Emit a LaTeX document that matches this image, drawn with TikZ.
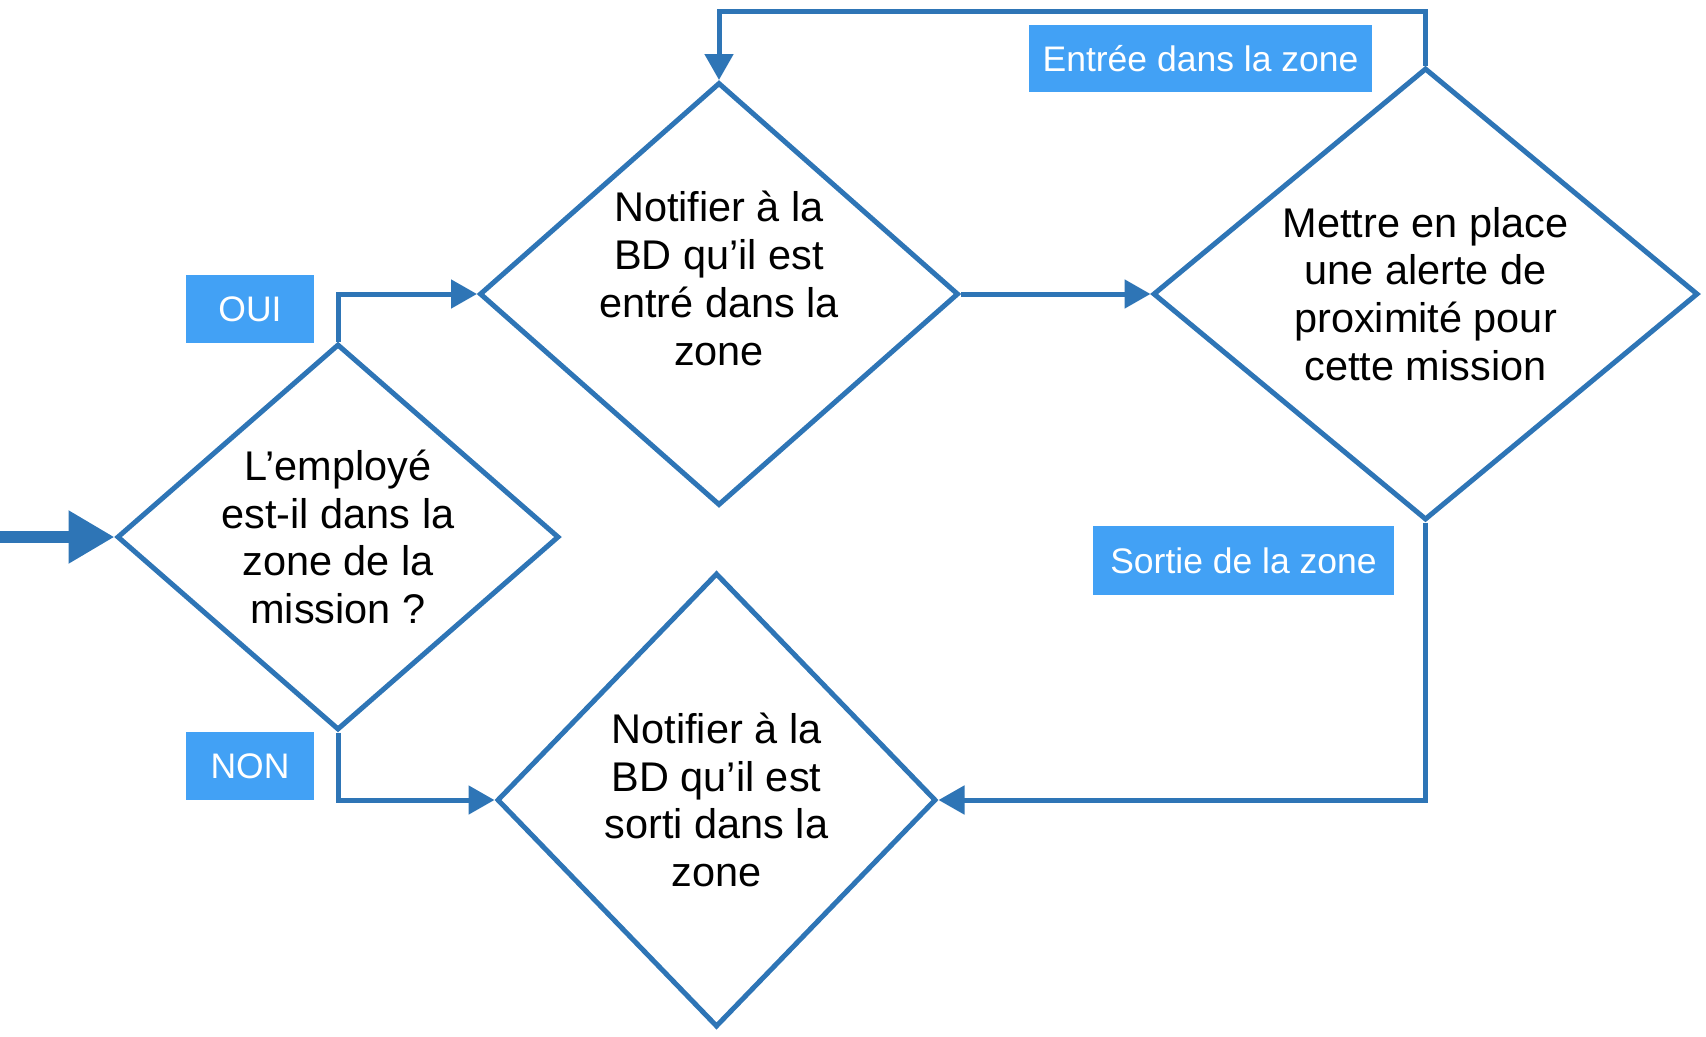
\documentclass[tikz,border=0pt]{standalone}
\usepackage{fontspec}
\setmainfont{Liberation Sans}
\usetikzlibrary{shapes.geometric,arrows.meta}
\definecolor{dunkelblau}{RGB}{46,117,182}
\definecolor{hellblau}{RGB}{66,161,245}
\begin{document}
\begin{tikzpicture}[
		raute/.style={diamond, draw=dunkelblau, line width=0.05cm, align=center, inner sep=0pt, font=\fontsize{11.8}{13.6}\selectfont},
		schrift/.style={align=center, font=\fontsize{11.8}{13.6}\selectfont},
		etikett/.style={fill=hellblau, text=white, inner sep=0pt, font=\fontsize{10.1}{12}\selectfont},
		fluss/.style={dunkelblau, line width=0.05cm, -{Triangle[length=0.26cm,width=0.28cm]}}]
		\useasboundingbox (0,0) rectangle (17.06,-10.36);

		% Koordinaten
		\coordinate (start) at (0,-5.37);

		% Rauten
		\node[raute, aspect=1.145, minimum width=4.42cm, minimum height=3.86cm] (frage) at (3.38,-5.37)
			{L’employé\\est-il dans la\\zone de la\\mission ?};
		\node[raute, aspect=1.13, minimum width=4.79cm, minimum height=4.23cm] (notifein) at (7.19,-2.94) {};
		\node[schrift] (notifeintext) at ([yshift=1.55mm]notifein.center)
			{Notifier à la\\BD qu’il est\\entré dans la\\zone};
		\node[raute, aspect=1.2, minimum width=5.45cm, minimum height=4.52cm] (alerte) at (14.255,-2.94)
			{Mettre en place\\une alerte de\\proximité pour\\cette mission};
		\node[raute, aspect=0.97, minimum width=4.39cm, minimum height=4.54cm] (notifaus) at (7.165,-8.00)
			{Notifier à la\\BD qu’il est\\sorti dans la\\zone};

		% Beschriftungen
		\node[etikett, minimum width=1.28cm, minimum height=0.68cm] (oui) at (2.50,-3.09) {OUI};
		\node[etikett, minimum width=1.28cm, minimum height=0.68cm] (non) at (2.50,-7.66) {NON};
		\node[etikett, minimum width=3.43cm, minimum height=0.67cm] (entree) at (12.005,-0.585) {Entrée dans la zone};
		\node[etikett, minimum width=3.01cm, minimum height=0.69cm] (sortie) at (12.435,-5.605) {Sortie de la zone};

		% Pfeile
		\draw[dunkelblau, line width=0.12cm, -{Triangle[length=0.46cm,width=0.50cm]}] (start) -- (frage.west);
		\draw[fluss] (frage.north) |- (notifein.west);
		\draw[fluss] (frage.south) |- (notifaus.west);
		\draw[fluss] (notifein.east) -- (alerte.west);
		\draw[fluss] (alerte.north) -- (alerte.north |- 0,-0.11) -| (notifein.north);
		\draw[fluss] (alerte.south) |- (notifaus.east);
	\end{tikzpicture}
\end{document}
